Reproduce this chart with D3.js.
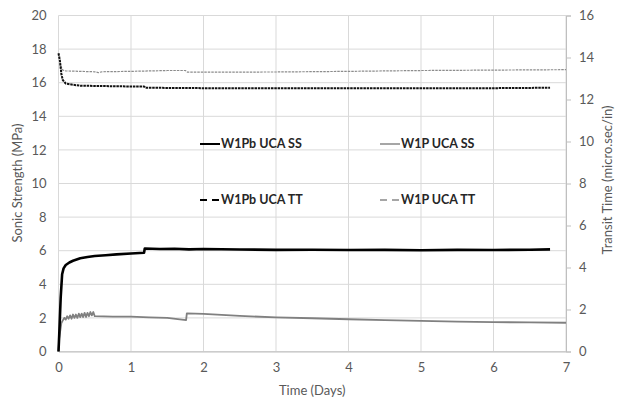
<!DOCTYPE html>
<html>
<head>
<meta charset="utf-8">
<script src="https://cdn.jsdelivr.net/npm/d3@7"></script>
<style>
    body { margin: 0; background: #fff; }
    text { font-family: Lato, "Open Sans", sans-serif; }
</style>
</head>
<body>
<script>
// series (days / MPa / micro.sec per in)
var dayPbSS = [0, 0.01, 0.03, 0.05, 0.07, 0.1, 0.15, 0.2, 0.3, 0.4, 0.5, 0.65, 0.8, 1.0, 1.18, 1.19, 1.4, 1.6, 1.8, 2.0, 2.5, 3.0, 3.5, 4.0, 4.5, 5.0, 5.5, 6.0, 6.5, 6.78];
var pbSS = [0, 1.0, 3.2, 4.6, 4.95, 5.15, 5.3, 5.4, 5.55, 5.62, 5.68, 5.73, 5.78, 5.83, 5.88, 6.13, 6.1, 6.12, 6.08, 6.1, 6.07, 6.05, 6.06, 6.04, 6.05, 6.03, 6.05, 6.04, 6.06, 6.08];

var dayPSS = [0, 0.01, 0.04, 0.06, 0.08, 0.1, 0.12, 0.14, 0.16, 0.18, 0.2, 0.22, 0.24, 0.26, 0.28, 0.3, 0.32, 0.34, 0.36, 0.38, 0.4, 0.42, 0.44, 0.46, 0.48, 0.5, 0.75, 1.0, 1.25, 1.5, 1.76, 1.77, 2.0, 2.5, 3.0, 3.5, 4.0, 4.5, 5.0, 5.5, 6.0, 6.5, 7.0];
var pSS = [0, 0.8, 1.7, 1.85, 2.0, 1.9, 2.1, 1.95, 2.15, 1.95, 2.2, 2.0, 2.2, 2.0, 2.25, 2.05, 2.25, 2.05, 2.3, 2.05, 2.3, 2.1, 2.35, 2.15, 2.35, 2.1, 2.08, 2.07, 2.03, 2.0, 1.87, 2.27, 2.24, 2.12, 2.03, 1.98, 1.92, 1.87, 1.82, 1.78, 1.75, 1.73, 1.71];

var dayPbTT = [0, 0.02, 0.04, 0.06, 0.1, 0.2, 0.3, 0.6, 1.0, 1.18, 1.2, 2, 3, 4, 5, 6, 6.78];
var pbTT = [14.2, 13.84, 13.2, 12.92, 12.76, 12.7, 12.66, 12.64, 12.62, 12.62, 12.56, 12.54, 12.54, 12.54, 12.54, 12.54, 12.56];

var dayPTT = [0.02, 0.03, 0.06, 0.1, 0.3, 0.5, 0.55, 0.6, 1.0, 1.5, 1.75, 1.78, 3, 4, 5, 6, 7];
var pTT = [13.76, 13.6, 13.4, 13.36, 13.34, 13.32, 13.28, 13.32, 13.34, 13.38, 13.38, 13.3, 13.31, 13.34, 13.38, 13.4, 13.42];

var xTicks = [0, 1, 2, 3, 4, 5, 6, 7];
var leftTicks = [0, 2, 4, 6, 8, 10, 12, 14, 16, 18, 20];
var rightTicks = [0, 2, 4, 6, 8, 10, 12, 14, 16];

var legendNames = ["W1Pb UCA SS", "W1P UCA SS", "W1Pb UCA TT", "W1P UCA TT"];

window.onload = function () {

    var w = 621, h = 400;
    var left = 58.5, right = 566, top = 15.5, bottom = 351.5;

    var svg = d3.select("body")
        .append("svg")
        .attr("width", w)
        .attr("height", h);

    var x = d3.scaleLinear().domain([0, 7]).range([left, right]);
    var yL = d3.scaleLinear().domain([0, 20]).range([bottom, top]);
    var yR = d3.scaleLinear().domain([0, 16]).range([bottom, top]);

    // gridlines
    svg.append("g")
        .selectAll("line.hg")
        .data(leftTicks)
        .enter()
        .append("line")
        .attr("x1", left).attr("x2", right)
        .attr("y1", function (d) { return yL(d); })
        .attr("y2", function (d) { return yL(d); })
        .style("stroke", "#d9d9d9").style("stroke-width", 1);

    svg.append("g")
        .selectAll("line.vg")
        .data(xTicks)
        .enter()
        .append("line")
        .attr("y1", top).attr("y2", bottom)
        .attr("x1", function (d) { return x(d); })
        .attr("x2", function (d) { return x(d); })
        .style("stroke", "#d9d9d9").style("stroke-width", 1);

    // axes
    var tickColor = "#595959";
    var fmt = d3.format("d");

    var xAxis = svg.append("g")
        .attr("transform", "translate(0," + bottom + ")")
        .call(d3.axisBottom(x).tickValues(xTicks).tickFormat(fmt).tickSize(0).tickPadding(11));

    var leftAxis = svg.append("g")
        .attr("transform", "translate(" + left + ",0)")
        .call(d3.axisLeft(yL).tickValues(leftTicks).tickFormat(fmt).tickSize(0).tickPadding(12));

    var rightAxis = svg.append("g")
        .attr("transform", "translate(" + right + ",0)")
        .call(d3.axisRight(yR).tickValues(rightTicks).tickFormat(fmt).tickSize(5).tickPadding(8));

    [xAxis, leftAxis, rightAxis].forEach(function (a) {
        a.selectAll("text").style("font-size", "13px").style("fill", tickColor);
        a.selectAll("line").style("stroke", "#bfbfbf");
        a.select(".domain").style("stroke", "#bfbfbf");
    });
    leftAxis.select(".domain").remove();

    // lines
    function drawLine(days, vals, scale, color, width, dash) {
        var pts = days.map(function (d, i) { return [d, vals[i]]; });
        var line = d3.line()
            .x(function (d) { return x(d[0]); })
            .y(function (d) { return scale(d[1]); });
        svg.append("path")
            .datum(pts)
            .attr("d", line)
            .style("fill", "none")
            .style("stroke", color)
            .style("stroke-width", width)
            .style("stroke-dasharray", dash || null)
            .style("stroke-linejoin", "round");
    }

    drawLine(dayPTT, pTT, yR, "#8c8c8c", 1.2, "2.5,1");
    drawLine(dayPbTT, pbTT, yR, "#111", 2, "2.5,0.8");
    drawLine(dayPSS, pSS, yL, "#808080", 1.8);
    drawLine(dayPbSS, pbSS, yL, "#000", 2.6);

    // legend
    var legend = [
        { x: 200, y: 144, color: "#000", dash: null },
        { x: 380, y: 144, color: "#a6a6a6", dash: null },
        { x: 200, y: 200, color: "#000", dash: "7,5" },
        { x: 380, y: 200, color: "#a6a6a6", dash: "7,5" }
    ];

    var items = svg.selectAll(".legend")
        .data(legendNames)
        .enter()
        .append("g")
        .attr("class", "legend")
        .attr("transform", function (d, i) {
            return "translate(" + legend[i].x + "," + legend[i].y + ")";
        });

    items.append("line")
        .attr("x1", 0).attr("x2", 20)
        .attr("y1", 0).attr("y2", 0)
        .style("stroke", function (d, i) { return legend[i].color; })
        .style("stroke-width", 2)
        .style("stroke-dasharray", function (d, i) { return legend[i].dash; });

    items.append("text")
        .attr("x", 21)
        .attr("dy", "0.35em")
        .style("font-size", "12.5px")
        .style("font-weight", "bold")
        .style("fill", "#262626")
        .text(function (d) { return d; });

    // axis titles
    svg.append("text")
        .attr("text-anchor", "middle")
        .attr("x", (left + right) / 2)
        .attr("y", 395)
        .style("font-size", "13px")
        .style("fill", tickColor)
        .text("Time (Days)");

    svg.append("text")
        .attr("text-anchor", "middle")
        .attr("transform", "translate(22," + 183 + ") rotate(-90)")
        .style("font-size", "13px")
        .style("fill", tickColor)
        .text("Sonic Strength (MPa)");

    svg.append("text")
        .attr("text-anchor", "middle")
        .attr("transform", "translate(612," + 180 + ") rotate(-90)")
        .style("font-size", "13px")
        .style("fill", tickColor)
        .text("Transit Time (micro.sec/in)");
};
</script>
</body>
</html>
